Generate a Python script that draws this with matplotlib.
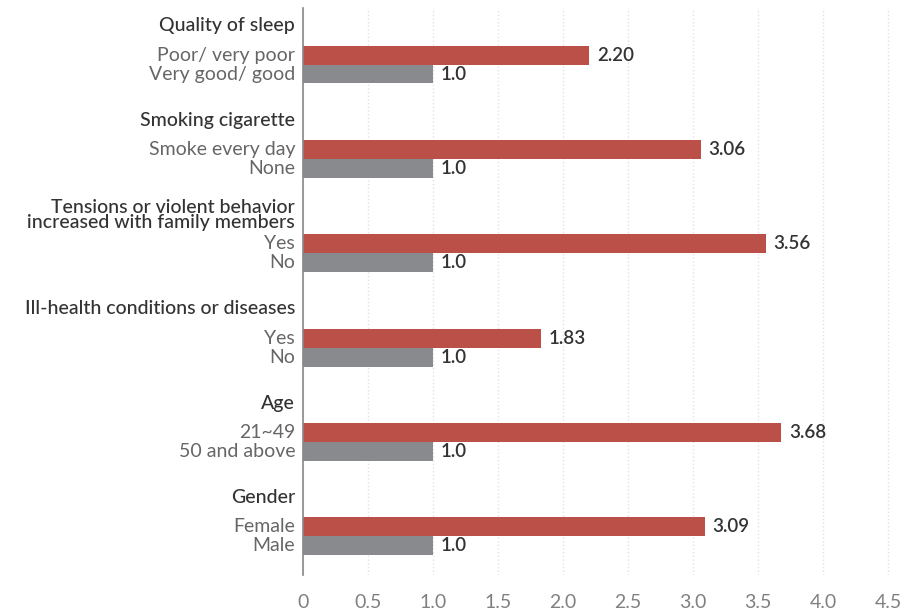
import numpy as np
import matplotlib.pyplot as plt

plt.rcParams['font.family'] = ['Lato', 'DejaVu Sans']

groups = ['Quality of sleep', 'Smoking cigarette',
          'Tensions or violent behavior\nincreased with family members',
          'Ill-health conditions or diseases', 'Age', 'Gender']
risk_labels = ['Poor/ very poor', 'Smoke every day', 'Yes', 'Yes', '21~49', 'Female']
ref_labels = ['Very good/ good', 'None', 'No', 'No', '50 and above', 'Male']
risk_values = [2.20, 3.06, 3.56, 1.83, 3.68, 3.09]
ref_values = [1.0, 1.0, 1.0, 1.0, 1.0, 1.0]
xticks = [0, 0.5, 1.0, 1.5, 2.0, 2.5, 3.0, 3.5, 4.0, 4.5]
xtick_labels = ['0', '0.5', '1.0', '1.5', '2.0', '2.5', '3.0', '3.5', '4.0', '4.5']

red = '#BB5049'
grey = '#898A8E'

fig = plt.figure(figsize=(9.12, 6.15), dpi=100)
ax = fig.add_axes([303 / 912, 1 - 575 / 615, 598 / 912, 567 / 615])

pos = np.arange(len(groups))
bh = 0.2
ax.barh(pos, risk_values, height=bh, color=red)
ax.barh(pos + bh, ref_values, height=bh, color=grey)

for i in range(len(groups)):
    ax.text(risk_values[i] + 0.06, pos[i], f'{risk_values[i]:.2f}', va='center',
            ha='left', fontsize=13.5, color='#333333', fontweight='semibold')
    ax.text(ref_values[i] + 0.06, pos[i] + bh, f'{ref_values[i]:.1f}', va='center',
            ha='left', fontsize=13.5, color='#333333', fontweight='semibold')
    # labels left of the axis
    ax.text(-0.06, pos[i], risk_labels[i], va='center', ha='right',
            fontsize=14, color='#666666')
    ax.text(-0.06, pos[i] + bh, ref_labels[i], va='center', ha='right',
            fontsize=14, color='#666666')
    ax.text(-0.06, pos[i] - 0.31, groups[i], va='center', ha='right',
            fontsize=14, color='#333333', fontweight='medium', linespacing=0.85)

ax.set_xlim(0, 4.6)
ax.set_ylim(5.51, -0.5)
ax.set_xticks(xticks)
ax.set_xticklabels(xtick_labels)
ax.set_yticks([])
ax.tick_params(axis='x', length=0, pad=14, labelsize=14, labelcolor='#808080')
ax.grid(axis='x', color='#e2e2e2', linestyle=':', linewidth=1)
ax.set_axisbelow(True)
for s in ['top', 'right', 'bottom']:
    ax.spines[s].set_visible(False)
ax.spines['left'].set_color('#888888')
ax.spines['left'].set_linewidth(1.2)

fig.savefig('out.png', dpi=100)
